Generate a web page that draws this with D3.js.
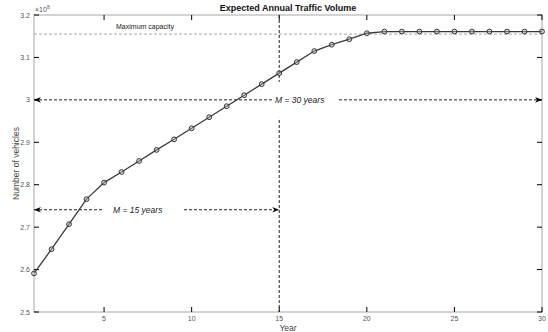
<!DOCTYPE html>
<html>
<head>
<meta charset="utf-8">
<script src="https://cdn.jsdelivr.net/npm/d3@7"></script>
<style>
	body { margin: 0; background: #fff; }
	svg { font-family: "Liberation Sans", Arial, sans-serif; }
	text.tk { font-size: 7px; fill: #555; }
	text.title { font-size: 9px; font-weight: bold; fill: #111; }
	text.label { font-size: 8.5px; fill: #444; }
	text.note { font-size: 7px; fill: #222; }
	text.mnote { font-size: 8.5px; font-style: italic; fill: #222; }
</style>
</head>
<body>
<div id="chart"></div>
<script>
const years = d3.range(1, 31);
const vehicles = [2.591, 2.648, 2.707, 2.766, 2.805, 2.830, 2.856, 2.882, 2.907, 2.933,
	2.959, 2.985, 3.011, 3.037, 3.063, 3.089, 3.115, 3.130, 3.143, 3.157,
	3.161, 3.161, 3.161, 3.161, 3.161, 3.161, 3.161, 3.161, 3.161, 3.161];
const xTicks = [5, 10, 15, 20, 25, 30];
const yTicks = [2.5, 2.6, 2.7, 2.8, 2.9, 3.0, 3.1, 3.2];
const maxCapacity = 3.155;
const m30Level = 3.0;
const m15Level = 2.741;
const m15Year = 15;

const W = 548, H = 332;
const pLeft = 34, pRight = 542, pTop = 15, pBottom = 312;

const svg = d3.select("#chart").append("svg")
	.attr("width", W).attr("height", H);

const x = d3.scaleLinear().domain([1, 30]).range([pLeft, pRight]);
const y = d3.scaleLinear().domain([2.5, 3.2]).range([pBottom, pTop]);

// arrow heads
const defs = svg.append("defs");
["arrowL", "arrowR"].forEach((id, k) => {
	defs.append("marker")
		.attr("id", id)
		.attr("viewBox", "0 0 10 10")
		.attr("refX", k ? 10 : 0).attr("refY", 5)
		.attr("markerWidth", 7).attr("markerHeight", 7)
		.attr("markerUnits", "userSpaceOnUse")
		.attr("orient", 0)
		.append("path")
		.attr("d", k ? "M0,1 L10,5 L0,9 L3,5 Z" : "M10,1 L0,5 L10,9 L7,5 Z")
		.attr("fill", "#000");
});

// box
svg.append("rect")
	.attr("x", pLeft).attr("y", pTop)
	.attr("width", pRight - pLeft).attr("height", pBottom - pTop)
	.attr("fill", "none").attr("stroke", "#a8a8a8").attr("stroke-width", 1);

// ticks (inside)
const tl = 5;
xTicks.forEach(t => {
	svg.append("line").attr("x1", x(t)).attr("x2", x(t)).attr("y1", pBottom).attr("y2", pBottom - tl).attr("stroke", "#000");
	svg.append("line").attr("x1", x(t)).attr("x2", x(t)).attr("y1", pTop).attr("y2", pTop + tl).attr("stroke", "#000");
	svg.append("text").attr("class", "tk")
		.attr("x", x(t)).attr("y", pBottom + 9)
		.attr("text-anchor", "middle")
		.text(t);
});
yTicks.forEach(t => {
	svg.append("line").attr("x1", pLeft).attr("x2", pLeft + tl).attr("y1", y(t)).attr("y2", y(t)).attr("stroke", "#000");
	svg.append("line").attr("x1", pRight).attr("x2", pRight - tl).attr("y1", y(t)).attr("y2", y(t)).attr("stroke", "#000");
	svg.append("text").attr("class", "tk")
		.attr("x", pLeft - 4).attr("y", y(t) + 2.5)
		.attr("text-anchor", "end")
		.text(d3.format("~g")(t));
});

// exponent
const ex = svg.append("text").attr("class", "tk").attr("x", pLeft + 1).attr("y", 12);
ex.append("tspan").text("\u00d710");
ex.append("tspan").attr("dy", -3).style("font-size", "5px").text("8");

// maximum capacity line
svg.append("line")
	.attr("x1", pLeft).attr("x2", pRight)
	.attr("y1", y(maxCapacity)).attr("y2", y(maxCapacity))
	.attr("stroke", "#aaa").attr("stroke-dasharray", "3 2");
svg.append("text").attr("class", "note")
	.attr("x", 145).attr("y", y(maxCapacity) - 5)
	.attr("text-anchor", "middle")
	.text("Maximum capacity");

const dash = "3 2";

// vertical year 15 line
svg.append("line")
	.attr("x1", x(m15Year)).attr("x2", x(m15Year))
	.attr("y1", pTop).attr("y2", pBottom)
	.attr("stroke", "#222").attr("stroke-dasharray", dash);

// horizontal double arrows, with a white label box on top
function span(level, x2, label, boxX, boxW, boxH, textX) {
	svg.append("line")
		.attr("x1", pLeft).attr("x2", x2)
		.attr("y1", y(level)).attr("y2", y(level))
		.attr("stroke", "#222").attr("stroke-dasharray", dash)
		.attr("marker-start", "url(#arrowL)")
		.attr("marker-end", "url(#arrowR)");
	svg.append("rect")
		.attr("x", boxX).attr("y", y(level) - boxH / 2)
		.attr("width", boxW).attr("height", boxH)
		.attr("fill", "#fff");
	const t = svg.append("text").attr("class", "mnote")
		.attr("x", textX).attr("y", y(level) + 3);
	t.append("tspan").text("M");
	t.append("tspan").style("font-style", "normal").text(" = ");
	t.append("tspan").text(label);
}
span(m30Level, pRight, "30 years", 272, 66, 36, 275);
span(m15Level, x(m15Year), "15 years", 104, 80, 20, 113);

// data line
const line = d3.line().x((d, i) => x(years[i])).y(d => y(d));
svg.append("path")
	.datum(vehicles)
	.attr("d", line)
	.attr("fill", "none")
	.attr("stroke", "#3a3a3a")
	.attr("stroke-width", 1.3);

svg.selectAll("circle.pt")
	.data(vehicles)
	.enter()
	.append("circle")
	.attr("class", "pt")
	.attr("cx", (d, i) => x(years[i]))
	.attr("cy", d => y(d))
	.attr("r", 2.4)
	.attr("fill", "#bbb")
	.attr("fill-opacity", 0.4)
	.attr("stroke", "#333")
	.attr("stroke-width", 1);

// labels
svg.append("text").attr("class", "title")
	.attr("x", 288).attr("y", 11)
	.attr("text-anchor", "middle")
	.text("Expected Annual Traffic Volume");
svg.append("text").attr("class", "label")
	.attr("x", 288).attr("y", 331)
	.attr("text-anchor", "middle")
	.text("Year");
svg.append("text").attr("class", "label")
	.attr("transform", `translate(19, ${(pTop + pBottom) / 2}) rotate(-90)`)
	.attr("text-anchor", "middle")
	.text("Number of vehicles");
</script>
</body>
</html>
